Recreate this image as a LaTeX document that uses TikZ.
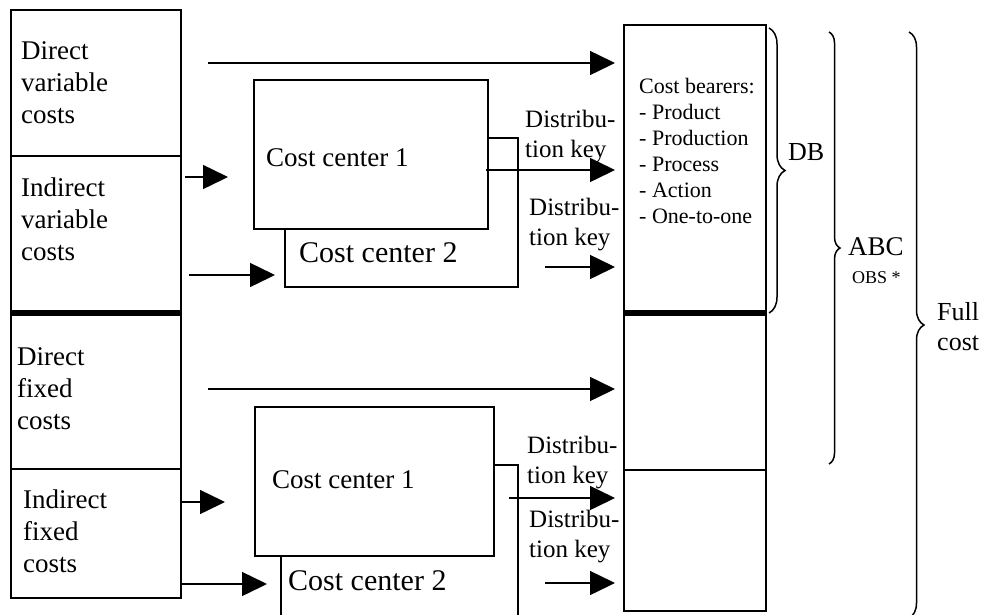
\documentclass[tikz,border=0pt]{standalone}
\usepackage{fontspec}
\setmainfont{Liberation Serif}
\usetikzlibrary{arrows.meta,decorations.pathreplacing}
\newcommand\fsz[2]{\fontsize{#1}{#2}\selectfont}
\begin{document}
\begin{tikzpicture}[x=1pt,y=-1pt,
  boxn/.style={draw, line width=1.5pt, fill=white, inner sep=0pt, outer sep=0pt, anchor=north west},
  arr/.style={line width=1.5pt, -{Triangle[length=25pt,width=24pt]}},
  divthick/.style={line width=5.5pt},
  divthin/.style={line width=1.5pt},
  lbl/.style={inner sep=0pt, anchor=base west, align=left},
  brc/.style={decorate, decoration={brace, amplitude=#1}, line width=1.5pt}
]
\useasboundingbox (0,0) rectangle (982,614);

% left column
\node[boxn, minimum width=170pt, minimum height=146pt] (dvc) at (11,10) {};
\node[boxn, minimum width=170pt, minimum height=157pt] (ivc) at (11,156) {};
\node[boxn, minimum width=170pt, minimum height=156pt] (dfc) at (11,313) {};
\node[boxn, minimum width=170pt, minimum height=129pt] (ifc) at (11,469) {};
\draw[divthick] (dfc.north west) -- (dfc.north east);

% (base anchor of a multi-line label = baseline of its last line)
\node[lbl, font=\fsz{27}{32}] (tdvc) at (21,123) {Direct\\variable\\costs};
\node[lbl, font=\fsz{27}{32}] (tivc) at (21,260) {Indirect\\variable\\costs};
\node[lbl, font=\fsz{27}{32}] (tdfc) at (17,429) {Direct\\fixed\\costs};
\node[lbl, font=\fsz{27}{32}] (tifc) at (23,572) {Indirect\\fixed\\costs};

% cost centers (upper)
\node[boxn, minimum width=233pt, minimum height=149pt] (cc2u) at (285,138) {};
\node[boxn, minimum width=234pt, minimum height=149pt] (cc1u) at (254,80) {};
\node[lbl, font=\fsz{27}{32}] (tcc1u) at (266,166) {Cost center 1};
\node[lbl, font=\fsz{30}{36}] (tcc2u) at (299,262) {Cost center 2};

% cost centers (lower)
\node[boxn, minimum width=237pt, minimum height=175pt] (cc2l) at (281,465) {};
\node[boxn, minimum width=239pt, minimum height=149pt] (cc1l) at (255,407) {};
\node[lbl, font=\fsz{27}{32}] (tcc1l) at (272,488) {Cost center 1};
\node[lbl, font=\fsz{30}{36}] (tcc2l) at (288,590) {Cost center 2};

% cost bearers column
\node[boxn, minimum width=142pt, minimum height=586pt] (cb) at (624,25) {};
\draw[divthick] (cb.west |- 0,313) -- (cb.east |- 0,313);
\draw[divthin] (cb.west |- 0,470) -- (cb.east |- 0,470);
\node[lbl, font=\fsz{22}{26}] (tcb) at (639,223) {Cost bearers:\\- Product\\- Production\\- Process\\- Action\\- One-to-one};

% distribution key labels
\node[lbl, font=\fsz{25}{30}] (dk1) at (525,157) {Distribu-\\tion key};
\node[lbl, font=\fsz{25}{30}] (dk2) at (529,245) {Distribu-\\tion key};
\node[lbl, font=\fsz{25}{30}] (dk3) at (527,483) {Distribu-\\tion key};
\node[lbl, font=\fsz{25}{30}] (dk4) at (529,557) {Distribu-\\tion key};

% arrows
\coordinate (s1) at (208,63);
\coordinate (s2) at (185,177);
\coordinate (s3) at (189,275);
\coordinate (s4) at (486,170);
\coordinate (s5) at (545,267);
\coordinate (s6) at (208,389);
\coordinate (s7) at (ifc.east |- 0,502);
\coordinate (s8) at (ifc.east |- 0,584);
\coordinate (s9) at (509,498);
\coordinate (s10) at (545,583);
\draw[arr, shorten >=9pt] (s1) -- (s1 -| cb.west);
\draw[arr, shorten >=26pt] (s2) -- (s2 -| cc1u.west);
\draw[arr, shorten >=10pt] (s3) -- (s3 -| cc2u.west);
\draw[arr, shorten >=9pt] (s4) -- (s4 -| cb.west);
\draw[arr, shorten >=9pt] (s5) -- (s5 -| cb.west);
\draw[arr, shorten >=9pt] (s6) -- (s6 -| cb.west);
\draw[arr, shorten >=30pt] (s7) -- (s7 -| cc1l.west);
\draw[arr, shorten >=14pt] (s8) -- (s8 -| cc2l.west);
\draw[arr, shorten >=9pt] (s9) -- (s9 -| cb.west);
\draw[arr, shorten >=9pt] (s10) -- (s10 -| cb.west);

% braces
\draw[brc=16pt] (769,28) -- (769,313);
\draw[brc=11pt] (829,32) -- (829,464);
\draw[brc=15pt] (909,32) -- (909,618);
\node[lbl, font=\fsz{26}{30}] (tdb) at (788,160) {DB};
\node[lbl, font=\fsz{27}{32}] (tabc) at (848,255) {ABC};
\node[lbl, font=\fsz{18}{22}] (tobs) at (852,283) {OBS *};
\node[lbl, font=\fsz{26}{30}] (tfull) at (937,350) {Full\\cost};
\end{tikzpicture}
\end{document}
